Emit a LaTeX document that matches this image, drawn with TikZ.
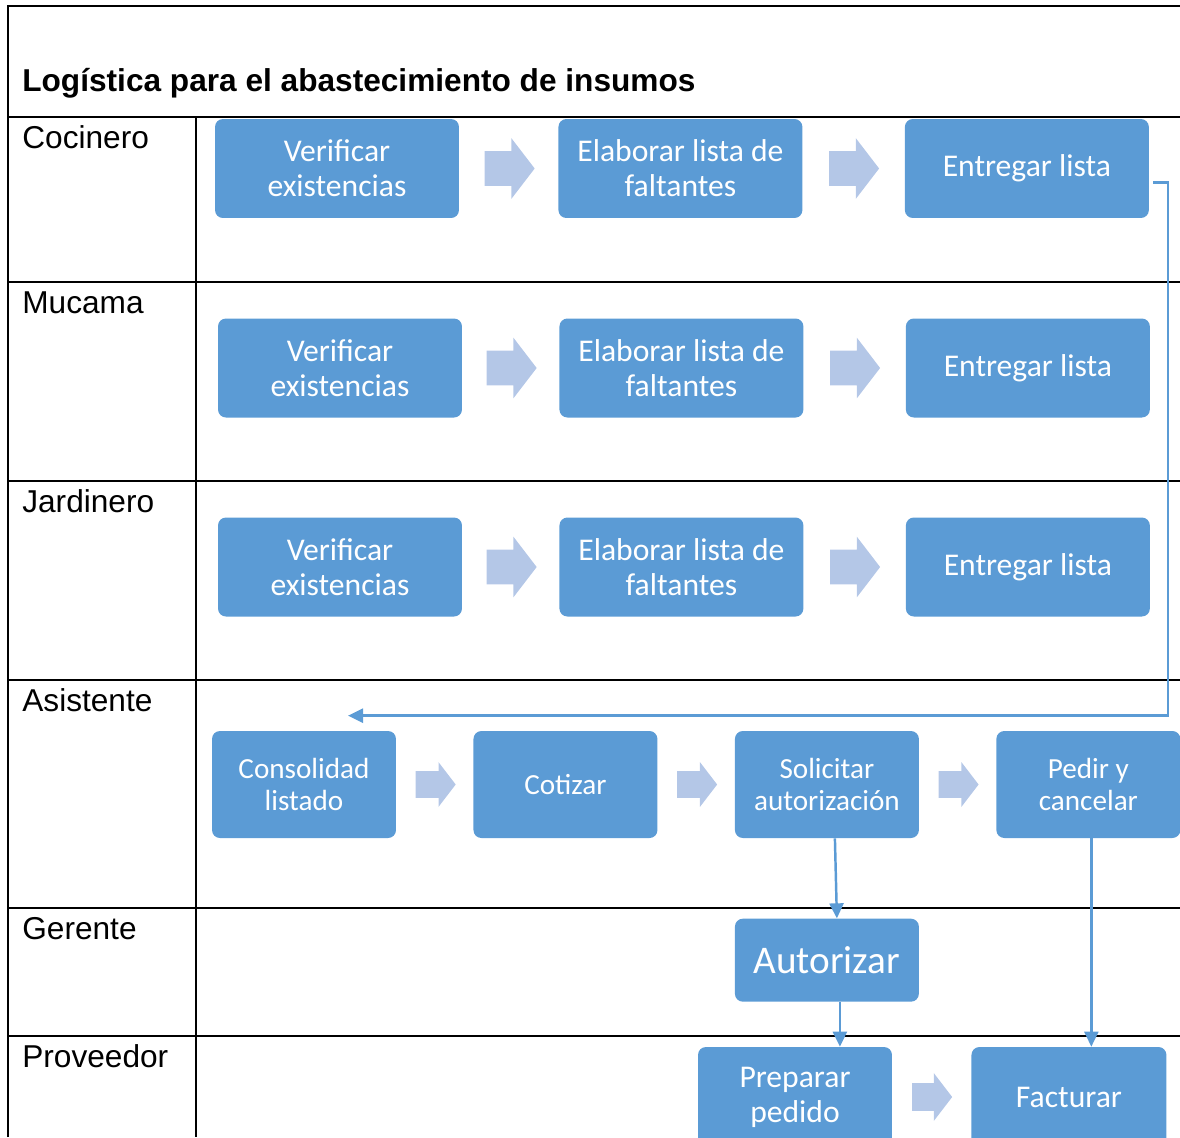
\documentclass[tikz,border=0pt]{standalone}
\usepackage{fontspec}
\setmainfont{Liberation Sans}
\newfontfamily\calibri{Carlito}
\usetikzlibrary{shapes.arrows, arrows.meta, positioning, calc}

\definecolor{boxblue}{HTML}{5B9BD5}
\definecolor{arrowblue}{HTML}{B4C7E7}

\begin{document}
\begin{tikzpicture}[
    x=0.02cm, y=-0.02cm,
    rule/.style={draw=black, line width=1.2pt},
    lane/.style={anchor=base west, inner sep=0pt, font=\fontsize{18}{21}\selectfont},
    task/.style={rectangle, fill=boxblue, rounded corners=4.5pt, text=white, align=center, inner sep=2pt, minimum width=4.88cm, minimum height=1.98cm, font=\calibri\fontsize{18}{19.9}\selectfont},
    smalltask/.style={task, minimum width=3.68cm, minimum height=2.14cm, font=\calibri\fontsize{16.6}{18.2}\selectfont},
    next/.style={single arrow, fill=arrowblue, draw=none, inner xsep=0pt, inner ysep=0.34cm, minimum height=1cm, single arrow head extend=0.26cm, single arrow tip angle=105},
    smallnext/.style={next, inner ysep=0.26cm, minimum height=0.8cm, single arrow head extend=0.18cm},
    flow/.style={draw=boxblue, line width=1.4pt, -{Triangle[length=0.3cm, width=0.28cm]}}
]
\clip (0,0) rectangle (1180,1137);

% Frame
\draw[rule] (8,1137) -- (8,6) -- (1180,6);
\draw[rule] (196,117) -- (196,1137);
\node[anchor=base west, inner sep=0pt, font=\bfseries\fontsize{18}{21}\selectfont] (title) at (22,91) {Logística para el abastecimiento de insumos};

% Lanes
\foreach \y/\who in {117/Cocinero, 282/Mucama, 481/Jardinero, 680/Asistente, 908/Gerente, 1036/Proveedor} {
    \draw[rule] (8,\y) -- (1180,\y);
    \node[lane] (role-\who) at (22,\y+31) {\who};
}

% Cocinero
\node[task] at (337,168.5) (c1) {Verificar\\existencias};
\node[next, right=0.5cm of c1] (cn1) {};
\node[task, right=0.46cm of cn1] (c2) {Elaborar lista de\\faltantes};
\node[next, right=0.52cm of c2] (cn2) {};
\node[task, right=0.5cm of cn2] (c3) {Entregar lista};

% Mucama
\node[task] at (340,368) (m1) {Verificar\\existencias};
\node[next, right=0.48cm of m1] (mn1) {};
\node[task, right=0.44cm of mn1] (m2) {Elaborar lista de\\faltantes};
\node[next, right=0.52cm of m2] (mn2) {};
\node[task, right=0.5cm of mn2] (m3) {Entregar lista};

% Jardinero
\node[task] at (340,567) (j1) {Verificar\\existencias};
\node[next, right=0.48cm of j1] (jn1) {};
\node[task, right=0.44cm of jn1] (j2) {Elaborar lista de\\faltantes};
\node[next, right=0.52cm of j2] (jn2) {};
\node[task, right=0.5cm of jn2] (j3) {Entregar lista};

% Asistente
\node[smalltask] at (304,784.5) (a1) {Consolidad\\listado};
\node[smallnext, right=0.38cm of a1] (an1) {};
\node[smalltask, right=0.34cm of an1] (a2) {Cotizar};
\node[smallnext, right=0.38cm of a2] (an2) {};
\node[smalltask, right=0.34cm of an2] (a3) {Solicitar\\autorización};
\node[smallnext, right=0.38cm of a3] (an3) {};
\node[smalltask, right=0.34cm of an3] (a4) {Pedir y\\cancelar};

% Gerente
\node[task, minimum width=3.68cm, minimum height=1.66cm, below=1.6cm of a3, font=\calibri\fontsize{22.3}{24}\selectfont] (g1) {Autorizar};

% Proveedor
\node[task, minimum width=3.88cm, minimum height=2cm] at (795,1097) (p1) {Preparar\\pedido};
\node[smallnext, inner ysep=0.27cm, single arrow head extend=0.2cm, right=0.39cm of p1] (pn1) {};
\node[task, minimum width=3.9cm, minimum height=2cm, right=0.37cm of pn1] (p2) {Facturar};

% Connectors
\coordinate (back) at ([shift={(44,-15)}]a1.north);
\draw[flow] ([shift={(4,14)}]c3.east) -- ++(15,0) |- (back);
\draw[flow] ([shift={(8,0)}]a3.south) -- ([shift={(10,0)}]g1.north);
\draw[flow] ([shift={(13,0)}]g1.south) coordinate (auth) -- (auth |- p1.north);
\draw[flow] ([shift={(3,0)}]a4.south) coordinate (paid) -- (paid |- p2.north);

\end{tikzpicture}
\end{document}
